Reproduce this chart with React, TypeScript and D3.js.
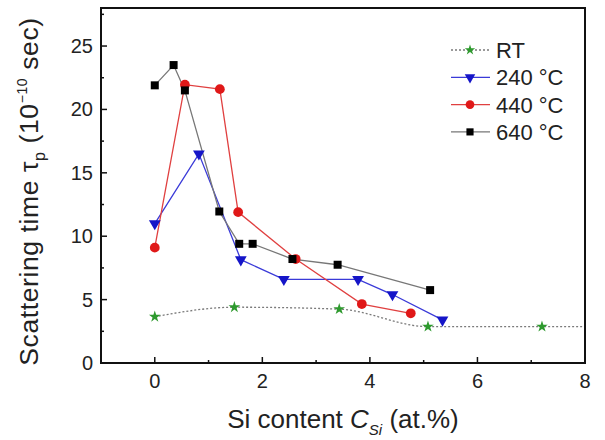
import React from "react";
import * as d3 from "d3";

// Si content (at.%) vs scattering time (1e-10 s)
const rtX = [0, 1.48, 3.43, 5.08, 7.2, 9.3];
const rtY = [3.65, 4.4, 4.25, 2.87, 2.87, 2.85];

const t240X = [0, 0.82, 1.6, 2.4, 3.78, 4.42, 5.35];
const t240Y = [11.0, 16.5, 8.15, 6.6, 6.6, 5.4, 3.4];

const t440X = [0, 0.56, 1.21, 1.55, 2.62, 3.85, 4.76];
const t440Y = [9.1, 21.95, 21.6, 11.9, 8.2, 4.65, 3.92];

const t640X = [0, 0.35, 0.56, 1.2, 1.57, 1.82, 2.56, 3.4, 5.12];
const t640Y = [21.9, 23.5, 21.5, 11.95, 9.4, 9.4, 8.2, 7.75, 5.75];

const xTicks = [0, 2, 4, 6, 8];
const yTicks = [0, 5, 10, 15, 20, 25];
const legendLabels = ["RT", "240 °C", "440 °C", "640 °C"];

const W = 605, H = 440;
const margin = { top: 8, right: 20, bottom: 77, left: 101 };
const FONT = "Arial, 'Liberation Sans', sans-serif";

type Pt = { x: number; y: number };
const zip = (xs: number[], ys: number[]): Pt[] => xs.map((x, i) => ({ x, y: ys[i] }));

const series = [
  { name: legendLabels[0], data: zip(rtX, rtY), line: "#7a7a7a", dash: "2,2", marker: "#2e9a2e", symbol: d3.symbolStar, size: 42, rot: 0, curve: d3.curveMonotoneX },
  { name: legendLabels[1], data: zip(t240X, t240Y), line: "#3a3ad8", dash: null, marker: "#1515c8", symbol: d3.symbolTriangle, size: 60, rot: 180, curve: d3.curveLinear },
  { name: legendLabels[2], data: zip(t440X, t440Y), line: "#e04040", dash: null, marker: "#e01818", symbol: d3.symbolCircle, size: 75, rot: 0, curve: d3.curveLinear },
  { name: legendLabels[3], data: zip(t640X, t640Y), line: "#777777", dash: null, marker: "#000000", symbol: d3.symbolSquare, size: 64, rot: 0, curve: d3.curveLinear },
];

export default function App() {
  const x = d3.scaleLinear().domain([-1, 8]).range([margin.left, W - margin.right]);
  const y = d3.scaleLinear().domain([0, 28]).range([H - margin.bottom, margin.top]);
  const x0 = x.range()[0], x1 = x.range()[1];
  const y0 = y.range()[0], y1 = y.range()[1];

  const minorX = d3.range(-1, 8.01, 1).filter(v => v % 2 !== 0);
  const minorY = d3.range(2.5, 28, 5);

  return (
    <svg width={W} height={H} style={{ position: "absolute", left: 0, top: 0, background: "#fff" }} fontFamily={FONT}>
      <defs>
        <clipPath id="plot-clip">
          <rect x={x0} y={y1} width={x1 - x0} height={y0 - y1} />
        </clipPath>
      </defs>

      {/* series */}
      <g clipPath="url(#plot-clip)">
        {series.map(s => {
          const line = d3.line<Pt>().curve(s.curve).x(d => x(d.x)).y(d => y(d.y));
          return (
            <path key={s.name} d={line(s.data) || ""} fill="none" stroke={s.line}
              strokeWidth={1.3} strokeDasharray={s.dash || undefined} />
          );
        })}
        {series.map(s => {
          const sym = d3.symbol().type(s.symbol).size(s.size)();
          return s.data.map((d, i) => (
            <path key={s.name + i} d={sym || ""} fill={s.marker}
              transform={`translate(${x(d.x)},${y(d.y)}) rotate(${s.rot})`} />
          ));
        })}
      </g>

      {/* frame */}
      <rect x={x0} y={y1} width={x1 - x0} height={y0 - y1} fill="none" stroke="#111" strokeWidth={2} />

      {/* x ticks */}
      {xTicks.map(t => (
        <g key={"xt" + t}>
          <line x1={x(t)} x2={x(t)} y1={y0} y2={y0 - 6} stroke="#111" strokeWidth={1.5} />
          <text x={x(t)} y={y0 + 25} textAnchor="middle" fontSize={20} fill="#222">{t}</text>
        </g>
      ))}
      {minorX.map(t => (
        <line key={"xm" + t} x1={x(t)} x2={x(t)} y1={y0} y2={y0 - 3} stroke="#111" strokeWidth={1.5} />
      ))}

      {/* y ticks */}
      {yTicks.map(t => (
        <g key={"yt" + t}>
          <line x1={x0} x2={x0 + 6} y1={y(t)} y2={y(t)} stroke="#111" strokeWidth={1.5} />
          <text x={x0 - 8} y={y(t) + 7} textAnchor="end" fontSize={20} fill="#222">{t}</text>
        </g>
      ))}
      {minorY.map(t => (
        <line key={"ym" + t} x1={x0} x2={x0 + 3} y1={y(t)} y2={y(t)} stroke="#111" strokeWidth={1.5} />
      ))}

      {/* axis titles */}
      <text x={343} y={428} textAnchor="middle" fontSize={26} fill="#222">
        Si content <tspan fontStyle="italic">C</tspan>
        <tspan fontStyle="italic" fontSize={15} dy={7}>Si</tspan>
        <tspan dy={-7}> (at.%)</tspan>
      </text>
      <text transform={`translate(38,${(y0 + y1) / 2 + 6}) rotate(-90)`} textAnchor="middle" fontSize={26.5} letterSpacing={0.6} fill="#222">
        Scattering time τ<tspan fontSize={16} dy={7}>p</tspan>
        <tspan dy={-7}> (10</tspan>
        <tspan fontSize={14} dy={-11}>−10</tspan>
        <tspan dy={11}> sec)</tspan>
      </text>

      {/* legend */}
      {series.map((s, i) => {
        const ly = 50 + i * 27.3;
        const sym = d3.symbol().type(s.symbol).size(s.size * 0.8)();
        return (
          <g key={"lg" + s.name}>
            <line x1={451} x2={490} y1={ly} y2={ly} stroke={s.line} strokeWidth={1.3}
              strokeDasharray={s.dash || undefined} />
            <path d={sym || ""} fill={s.marker} transform={`translate(470,${ly}) rotate(${s.rot})`} />
            <text x={496} y={ly + 8} fontSize={22} fill="#222">{s.name}</text>
          </g>
        );
      })}
    </svg>
  );
}
